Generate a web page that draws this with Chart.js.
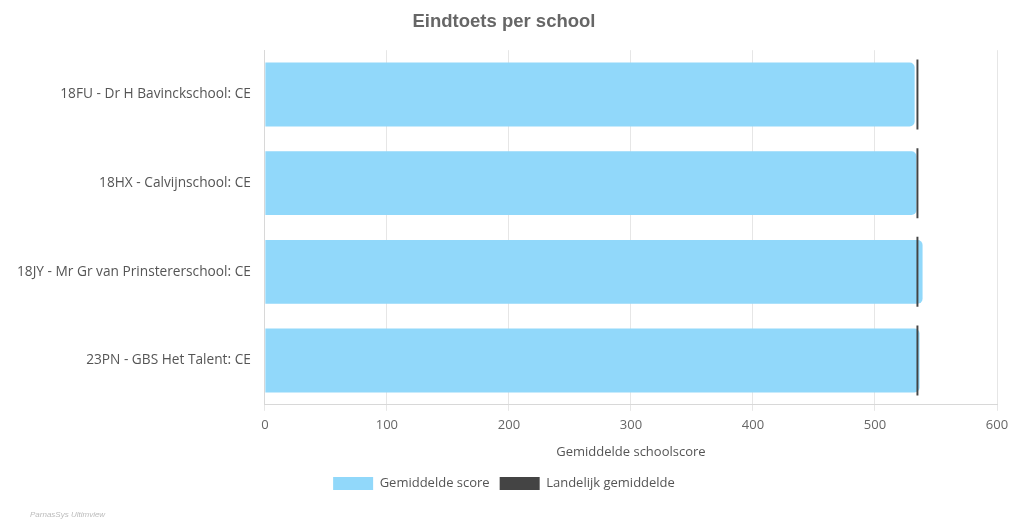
<!DOCTYPE html>
<html>
<head>
<meta charset="utf-8">
<script src="https://cdn.jsdelivr.net/npm/chart.js@4"></script>
<style>
  body { margin: 0; background: #fff; }
  #wrap { position: relative; width: 1010px; height: 520px; }
  #credit { position: absolute; left: 30px; top: 510px; font: italic 8px "Liberation Sans", Arial, sans-serif; color: #bbb; }
</style>
</head>
<body>
<div id="wrap">
  <canvas id="myChartSchool" width="1010" height="520"></canvas>
  <div id="credit">ParnasSys Ultimview</div>
</div>
<script>
// --- DATA ---
const scholen = [
  '18FU - Dr H Bavinckschool: CE',
  '18HX - Calvijnschool: CE',
  '18JY - Mr Gr van Prinstererschool: CE',
  '23PN - GBS Het Talent: CE'
];
const gemiddeldeScore = [532.5, 534, 539, 536.5];
const landelijkGemiddelde = [534.8, 534.8, 534.8, 534.8];
const xTicks = [0, 100, 200, 300, 400, 500, 600];

const chartSchool = document.getElementById('myChartSchool');

new Chart(chartSchool, {
  type: 'bar',
  data: {
    labels: scholen,
    datasets: [{
      label: 'Gemiddelde score',
      data: gemiddeldeScore,
      backgroundColor: '#91d8fa',
      borderRadius: 5,
      borderSkipped: 'start',
      barPercentage: 0.72,
      categoryPercentage: 1,
      grouped: false,
      order: 2
    }, {
      label: 'Landelijk gemiddelde',
      // smalle zwevende balk als markering
      data: landelijkGemiddelde.map(v => [v - 0.8, v + 0.8]),
      backgroundColor: '#444444',
      borderWidth: 0,
      barPercentage: 0.79,
      categoryPercentage: 1,
      grouped: false,
      order: 1
    }]
  },
  options: {
    indexAxis: 'y',
    responsive: false,
    animation: false,
    layout: { padding: { left: 11, right: 13, top: 4, bottom: 20 } },
    scales: {
      x: {
        min: 0,
        max: 600,
        afterBuildTicks: (axis) => { axis.ticks = xTicks.map(v => ({ value: v })); },
        afterFit: (axis) => { axis.paddingRight = 0; },
        grid: { color: '#e6e6e6', tickLength: 6 },
        border: { color: '#d8d8d8' },
        ticks: { color: '#666', font: { family: 'Open Sans', size: 13 }, padding: 7 },
        title: {
          display: true,
          text: 'Gemiddelde schoolscore',
          color: '#555',
          font: { family: 'Open Sans', size: 13 },
          padding: { top: 4, bottom: 7 }
        }
      },
      y: {
        grid: { display: false },
        border: { color: '#d8d8d8' },
        ticks: { color: '#555', font: { family: 'Open Sans', size: 13.7 }, padding: 6 }
      }
    },
    plugins: {
      title: {
        display: true,
        text: 'Eindtoets per school',
        color: '#666',
        font: { family: 'Liberation Sans', size: 18.5, weight: 'bold' },
        padding: { top: 7, bottom: 17 }
      },
      legend: {
        position: 'bottom',
        labels: {
          boxWidth: 40,
          boxHeight: 13,
          color: '#555',
          font: { family: 'Open Sans', size: 13 },
          padding: 10,
          sort: (a, b) => a.datasetIndex - b.datasetIndex
        }
      },
      tooltip: { enabled: false }
    }
  }
});
</script>
</body>
</html>
